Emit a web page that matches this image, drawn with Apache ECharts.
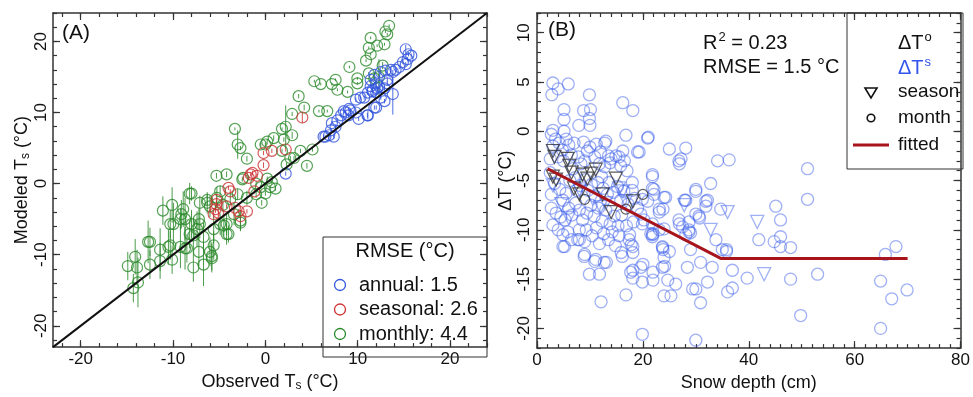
<!DOCTYPE html>
<html><head><meta charset="utf-8">
<script src="https://cdn.jsdelivr.net/npm/echarts@6/dist/echarts.min.js"></script>
<style>html,body{margin:0;padding:0;background:#fff}#c{width:973px;height:397px}</style>
</head><body><div id="c"></div>
<script>
// ---------- Panel A data: [observed, modeled, error half-length] ----------
const annualA = [[2.2,1.4,0.3],[6.3,6.6,0.3],[6.9,6.8,0.3],[7.4,6.6,0.3],[7.1,7.5,0.3],[7.6,8.0,0.3],[7.2,8.5,0.3],[7.8,8.9,0.3],[8.2,9.6,0.3],[8.7,10.0,0.3],[9.2,10.3,0.3],[9.8,10.0,0.3],[9.0,9.6,0.3],[10.1,9.1,0.3],[11.1,9.6,0.6],[12.0,10.7,0.3],[10.3,12.1,0.3],[10.7,12.1,0.3],[11.1,12.8,0.3],[11.6,13.0,0.3],[12.0,12.8,0.3],[12.5,12.1,0.3],[12.3,13.7,0.3],[12.9,13.4,0.3],[13.2,14.1,0.3],[11.4,14.6,0.3],[11.8,15.3,0.3],[12.5,15.7,0.3],[13.2,14.6,0.3],[13.8,12.6,2.9],[12.9,11.6,0.3],[13.6,16.0,0.3],[14.1,16.0,0.3],[14.5,16.4,0.3],[14.9,17.1,0.3],[15.2,16.8,0.3],[15.4,17.5,0.3],[15.8,18.0,0.3],[15.2,18.9,0.6],[15.5,18.2,0.3],[11.4,13.7,0.3],[6.5,6.6,0.2],[8.5,10.2,0.3],[9.05,10.5,0.3],[9.8,11.8,0.3],[11.05,9.6,0.3],[11.8,10.7,0.3],[12.0,14.1,0.3],[13.0,15.9,0.3],[13.8,15.7,0.3],[11.6,13.2,0.3],[12.1,13.4,0.3]];
const seasonalA = [[4.0,9.3,0.8],[-0.2,4.3,0.3],[0.7,4.6,0.3],[2.2,4.8,0.3],[-0.2,2.6,0.4],[-1.4,1.5,0.3],[-0.9,1.1,0.3],[-1.8,0.8,0.3],[-1.2,-1.1,0.3],[-4.0,-0.6,0.3],[-3.8,-1.1,0.3],[-5.3,-2.3,0.5],[-5.4,-3.6,0.5],[-5.6,-4.3,0.5],[-5.1,-4.1,0.5],[-4.2,-3.2,0.3],[-3.3,-3.4,0.3],[-2.9,-3.9,0.3],[-2.7,-4.6,0.3],[-2.0,-3.9,0.3],[-5.3,-2.9,0.5],[-1.6,1.3,0.3]];
const monthlyA = [[13.4,22.2,0.2],[13.0,21.4,0.2],[13.2,21.0,0.2],[11.4,20.5,0.2],[11.2,19.1,0.2],[12.1,19.4,0.2],[12.9,19.6,0.2],[11.4,18.2,0.2],[10.9,17.3,0.2],[12.7,16.6,0.5],[9.1,16.4,0.2],[11.2,15.5,0.2],[11.8,14.8,0.2],[12.3,15.0,2.5],[5.3,14.4,0.2],[6.0,14.0,0.2],[7.6,14.6,0.2],[7.2,14.0,0.2],[7.8,13.2,0.2],[8.9,12.9,0.2],[9.96,14.8,0.2],[9.96,14.1,0.2],[3.6,12.3,0.3],[4.2,10.7,0.4],[2.9,9.8,0.3],[2.2,8.0,3.0],[5.8,10.2,0.2],[6.7,10.2,0.2],[-3.3,7.7,0.2],[-3.0,5.5,2.0],[1.8,7.7,0.2],[2.9,6.8,0.5],[0.9,6.4,0.4],[0.2,5.9,0.4],[-0.5,5.5,0.3],[0.0,5.5,0.3],[2.0,6.2,0.3],[-2.7,5.0,0.3],[-2.0,3.5,0.4],[1.8,4.6,0.3],[3.8,4.6,0.3],[5.1,4.8,0.3],[2.7,3.6,0.3],[4.5,2.5,0.4],[-2.4,0.8,0.3],[-5.3,1.1,0.4],[0.2,0.7,0.3],[0.7,0.2,0.3],[1.1,-0.7,0.3],[0.0,-1.4,0.3],[-0.4,-2.7,0.4],[-4.2,1.3,0.4],[-2.5,0.6,0.3],[2.3,2.7,0.3],[3.1,3.6,0.3],[-1.0,0.0,0.3],[0.5,-0.5,0.3],[-0.5,-0.5,0.3],
[-8.0,-1.4,1.0],[-6.3,-2.3,0.8],[-7.1,-2.7,1.0],[-4.9,-1.1,0.8],[-3.4,-4.3,1.5],[-2.7,-5.5,1.0],[-4.2,-5.7,1.5],[-4.9,-5.7,1.5],[-4.0,-7.1,1.2],[-5.6,-6.4,2.0],[-10.1,-3.0,2.5],[-11.1,-3.8,2.0],[-8.9,-3.6,2.5],[-9.1,-4.3,2.0],[-8.7,-5.0,3.0],[-8.0,-5.7,2.0],[-9.96,-5.7,3.0],[-7.1,-5.7,2.0],[-7.4,-6.4,2.5],[-6.7,-7.5,2.0],[-7.8,-7.3,2.5],[-10.5,-8.9,2.5],[-12.5,-8.2,2.0],[-11.4,-9.3,3.0],[-9.2,-8.9,3.0],[-8.7,-9.1,3.0],[-7.2,-9.6,2.0],[-6.0,-9.6,2.0],[-5.8,-10.5,2.0],[-10.1,-10.7,2.0],[-11.4,-10.9,2.5],[-12.5,-11.4,2.0],[-7.8,-11.8,2.0],[-6.7,-11.4,3.0],[-14.1,-10.3,2.5],[-13.9,-11.8,2.5],[-14.9,-11.6,2.0],[-13.8,-13.9,3.5],[-14.3,-14.7,2.0],[-8.2,-1.4,1.5],[-5.25,-2.0,1.5],[-6.3,-2.7,1.5],[-10.3,-5.7,2.0],[-9.2,-5.0,1.5],[-7.2,-5.0,1.5],[-8.2,-7.1,2.0],[-4.5,-5.9,1.5],[-4.2,-7.1,1.5],[-2.7,-5.2,1.5],[-12.7,-8.2,3.0],[-10.3,-8.7,2.0],[-8.5,-9.1,2.0],[-5.6,-8.7,2.0],[-5.8,-10.2,2.0],[-2.0,-2.0,1.0],[-1.0,-1.5,0.5],[-3.0,-1.5,0.8],[-6.0,-3.2,1.5],[-4.6,-3.0,1.0],[-3.8,-2.2,0.8]];
const oneToOne = [[-23,-23],[24,24]];
const rmseNames = ['annual: 1.5','seasonal: 2.6','monthly: 4.4'];
const ticksA = [-20,-10,0,10,20];

// ---------- Panel B data: [snow depth (cm), ΔT (°C)] ----------
const circlesS = [[3.0,4.9],[5.9,4.8],[4.0,4.3],[2.8,3.7],[9.9,3.7],[16.2,2.9],[18.1,2.1],[5.1,2.2],[8.8,2.1],[10.1,2.2],[5.1,1.2],[9.9,1.3],[7.9,0.6],[10.0,0.6],[3.0,0.1],[5.1,0.0],[2.7,-0.3],[16.8,-0.4],[20.9,-0.7],[21.0,-0.6],
[3.5,-0.8],[4.2,-1.2],[5.5,-0.8],[6.0,-1.4],[4.8,-1.9],[3.0,-1.5],[7.0,-1.2],[8.8,-1.1],[10.0,-1.6],[11.2,-1.3],[13.0,-1.0],[12.8,-1.2],[9.5,-2.0],[10.9,-2.6],[12.0,-2.1],[13.5,-2.5],[14.9,-2.5],[14.0,-2.8],[16.2,-2.0],[15.5,-2.6],[19.3,-2.1],[25.0,-1.8],[28.1,-1.7],[27.2,-2.8],[26.9,-3.3],[34.1,-3.0],[36.3,-2.9],[51.1,-3.8],[51.1,-6.9],
[6.5,-2.4],[7.8,-2.6],[8.3,-3.3],[5.0,-3.0],[4.0,-2.6],[2.5,-2.8],[6.8,-3.8],[9.0,-3.0],[11.8,-3.3],[12.8,-3.6],[13.8,-3.2],[15.8,-3.5],[16.5,-3.0],[17.0,-4.0],[18.0,-5.2],[18.0,-6.0],
[2.5,-4.2],[3.3,-5.3],[2.7,-6.4],[4.3,-5.9],[4.9,-7.0],[5.5,-6.3],[6.2,-5.0],[7.2,-4.7],[7.5,-6.0],[8.2,-5.5],[9.1,-4.9],[9.6,-6.0],[10.3,-5.4],[11.0,-6.6],[11.5,-5.2],[12.2,-4.6],[12.5,-5.8],[13.3,-6.4],[13.6,-5.2],[14.4,-6.2],[15.2,-5.6],[15.8,-7.0],[16.4,-6.1],[17.2,-7.4],[18.4,-6.8],[19.0,-7.8],[19.6,-8.4],[19.9,-9.4],[20.9,-7.1],[21.8,-4.6],[21.8,-5.8],[22.1,-6.4],[24.0,-6.7],[23.1,-8.2],[21.8,-9.4],[23.1,-10.0],[21.5,-10.4],[21.8,-10.7],
[2.7,-7.8],[3.6,-8.3],[4.5,-8.7],[5.3,-9.0],[6.0,-7.8],[6.6,-8.5],[7.3,-7.3],[8.0,-8.0],[8.6,-9.0],[9.4,-8.3],[10.2,-7.5],[10.8,-8.6],[11.6,-7.8],[12.3,-9.1],[13.0,-8.0],[13.8,-9.4],[14.6,-8.6],[15.3,-9.6],[16.0,-8.5],[16.9,-9.6],[17.5,-10.5],[18.2,-9.2],
[3.0,-9.5],[4.0,-10.0],[4.9,-10.5],[4.9,-11.7],[5.8,-10.2],[6.5,-11.0],[7.7,-11.0],[8.0,-10.0],[9.3,-10.0],[9.0,-11.2],[10.4,-10.6],[11.2,-9.8],[11.8,-11.4],[12.6,-10.4],[13.5,-11.0],[14.2,-10.2],[14.8,-11.6],[15.5,-10.6],[15.9,-12.3],[16.1,-12.7],[17.8,-11.5],[18.1,-12.3],[18.1,-11.7],[17.4,-11.0],[9.0,-12.5],[10.9,-13.2],[13.1,-13.3],[12.7,-13.3],[11.1,-13.0],[8.9,-12.7],[5.2,-11.7],[8.0,-11.0],
[9.9,-14.5],[11.8,-14.5],[12.1,-17.3],[16.8,-16.6],[18.1,-14.1],[17.7,-14.3],[18.1,-14.9],[19.6,-13.8],[19.9,-15.3],[20.0,-13.5],[21.9,-14.3],[21.9,-15.1],[19.9,-20.6],[23.8,-12.0],[24.1,-13.7],[23.7,-13.8],[23.7,-11.8],[25.0,-12.2],[24.0,-12.8],[24.7,-15.1],[26.2,-15.5],[25.3,-16.7],[24.0,-16.7],[21.9,-10.4],[23.8,-7.9],
[26.9,-9.4],[27.5,-9.7],[28.7,-9.2],[28.7,-10.2],[29.0,-10.3],[28.1,-10.5],[30.6,-8.6],[30.7,-8.8],[31.9,-7.6],[32.2,-7.0],[28.1,-7.0],[30.0,-6.1],[32.8,-5.3],[33.8,-11.0],[35.8,-12.0],[35.8,-12.2],[29.0,-12.0],[28.4,-13.8],[30.9,-13.3],[33.1,-13.8],[36.9,-14.1],[39.7,-14.9],[30.0,-16.0],[32.2,-15.3],[30.9,-17.4],[30.0,-21.2],[36.0,-16.3],[36.9,-15.9],[29.4,-16.0],
[19.0,-2.1],[26.8,-3.0],[21.8,-4.4],[30.0,-5.9],[22.1,-5.9],[24.3,-6.7],[27.9,-7.0],[31.9,-7.1],[34.7,-7.9],[19.9,-6.9],[23.1,-7.9],[30.0,-8.4],[26.8,-9.0],[20.2,-9.0],[24.0,-9.9],[28.7,-10.0],[21.8,-10.5],[23.7,-11.7],[35.0,-12.0],
[41.9,-11.0],[44.8,-11.2],[46.0,-10.7],[45.1,-7.6],[46.0,-9.0],[46.0,-11.7],[47.9,-11.8],[47.9,-15.0],[53.0,-14.5],[49.8,-18.7],[64.9,-15.2],[65.8,-12.5],[67.8,-11.7],[67.0,-17.0],[69.9,-16.1],[64.9,-20.0]];
const trianglesS = [[4.6,-7.4],[6.0,-8.8],[8.0,-5.9],[10.5,-6.8],[13.0,-7.3],[15.5,-5.8],[16.2,-6.1],[16.8,-7.1],[27.8,-7.5],[32.8,-10.0],[36.0,-8.2],[41.6,-9.2],[42.9,-14.5],[3.0,-5.5],[12.0,-7.7]];
const trianglesO = [[3.0,-2.0],[3.3,-2.6],[3.0,-4.6],[3.6,-4.9],[5.8,-2.8],[6.1,-3.5],[8.6,-4.4],[10.2,-4.3],[11.1,-3.9],[14.9,-4.8],[7.0,-5.8],[8.0,-6.4],[12.4,-6.4],[14.0,-8.2],[18.1,-7.1],[6.5,-4.2],[9.5,-4.8]];
const circlesO = [[9.0,-6.9],[16.8,-7.9],[20.0,-6.4]];
const fitted = [[2,-3.8],[34.7,-12.9],[70,-12.9]];
const legendB = ['season','month','fitted'];
const ticksBx = [0,20,40,60,80];
const ticksBy = [-20,-15,-10,-5,0,5,10];

// ---------- build ----------
const FONT = '"Liberation Sans", Arial, sans-serif';
const AX = '#333';
function range(a,b,s){const r=[];for(let v=a;v<=b+1e-9;v+=s)r.push(+v.toFixed(6));return r;}

function mkAxes(grid, isX, min, max, majors, minors, name, nameGap, labelMargin){
  const posA = isX ? 'bottom' : 'left', posB = isX ? 'top' : 'right';
  const base = {type:'value', gridIndex:grid, min:min, max:max, splitLine:{show:false}};
  const line = {show:true, onZero:false, lineStyle:{color:AX, width:1.5}};
  const noLine = {show:false, onZero:false};
  const tick = (vals,len)=>({show:true, inside:true, length:len, customValues:vals, lineStyle:{color:AX, width:1.2}});
  return [
    Object.assign({}, base, {position:posA, axisLine:line, axisTick:tick(majors,7),
      axisLabel:{show:true, customValues:majors, rotate:isX?0:90, margin:labelMargin, color:'#111', fontSize:17, fontFamily:FONT},
      name:name, nameLocation:'middle', nameGap:nameGap,
      nameTextStyle:{color:'#111', fontSize:18, fontFamily:FONT, rich:{a:{fontSize:18, fontFamily:FONT, color:'#111'}, s:{fontSize:12, fontFamily:FONT, color:'#111', padding:[8,0,0,0]}}}}),
    Object.assign({}, base, {position:posA, axisLine:noLine, axisTick:tick(minors,4), axisLabel:{show:false}}),
    Object.assign({}, base, {position:posB, axisLine:line, axisTick:tick(majors,7), axisLabel:{show:false}}),
    Object.assign({}, base, {position:posB, axisLine:noLine, axisTick:tick(minors,4), axisLabel:{show:false}})
  ];
}

const xAxes = [].concat(
  mkAxes(0, true, -23, 24, ticksA, range(-22,24,2), '{a|Observed T}{s|s}{a| (°C)}', 20, 4),
  mkAxes(1, true, 0, 80, ticksBx, range(0,80,2), 'Snow depth (cm)', 25, 4)
);
const yAxes = [].concat(
  mkAxes(0, false, -23, 24, ticksA, range(-22,24,2), '{a|Modeled T}{s|s}{a| (°C)}', 21, 3),
  mkAxes(1, false, -22, 12, ticksBy, range(-22,12,1), 'ΔT (°C)', 19, 4)
);

function errSeries(data, color, xi, yi){
  return {type:'custom', xAxisIndex:xi, yAxisIndex:yi, data:data, clip:true, silent:true,
    renderItem:function(params, api){
      const x=api.value(0), y=api.value(1), e=api.value(2);
      const p1=api.coord([x,y-e]), p2=api.coord([x,y+e]);
      return {type:'line', shape:{x1:p1[0],y1:p1[1],x2:p2[0],y2:p2[1]}, style:{stroke:color, lineWidth:1, opacity:0.85}};
    }};
}
function ring(name, data, color, size, xi, yi, sym, rot, w){
  return {type:'scatter', name:name, xAxisIndex:xi, yAxisIndex:yi, data:data, symbol:sym||'circle', symbolSize:size, symbolRotate:rot||0,
    itemStyle:{color:'rgba(0,0,0,0)', borderColor:color, borderWidth:w||1.2}, emphasis:{disabled:true}};
}

const GREEN='#2a8a2a', RED='#cc3333', BLUE='#3355dd', LBLUE='rgba(60,95,235,0.62)', DKRED='#a8141c';
const series = [
  errSeries(monthlyA, GREEN, 0, 0),
  ring('monthly', monthlyA, GREEN, 11, 0, 0),
  errSeries(seasonalA, RED, 0, 0),
  ring('seasonal', seasonalA, RED, 11, 0, 0),
  errSeries(annualA, BLUE, 0, 0),
  ring('annual', annualA, BLUE, 11, 0, 0),
  {type:'line', data:oneToOne, xAxisIndex:0, yAxisIndex:0, showSymbol:false, lineStyle:{color:'#111', width:2}, z:5, silent:true},
  ring('ΔTs month', circlesS, LBLUE, 12, 4, 4, 'circle', 0, 1.3),
  ring('ΔTs season', trianglesS, LBLUE, 13, 4, 4, 'triangle', 180, 1.3),
  {type:'line', data:fitted, xAxisIndex:4, yAxisIndex:4, showSymbol:false, lineStyle:{color:DKRED, width:3}, z:4, silent:true},
  ring('ΔTo season', trianglesO, '#333', 13, 4, 4, 'triangle', 180),
  ring('ΔTo month', circlesO, '#333', 10, 4, 4)
];
series.forEach(s=>{ if(s.z===undefined) s.z=3; });

const T = (x,y,text,opt)=>({type:'text', z:100, style:Object.assign({x:x,y:y,text:text,fill:'#111',font:'20px '+FONT,verticalAlign:'middle'},opt||{})});
const supRich = (col)=>({a:{font:'20px '+FONT, fill:col, verticalAlign:'bottom'}, p:{font:'13px '+FONT, fill:col, verticalAlign:'bottom', padding:[0,0,9,1]}});
const legColors=[BLUE,RED,GREEN];
const graphic = [
  T(62,33,'(A)',{font:'21px '+FONT}),
  T(548,30,'(B)',{font:'21px '+FONT}),
  T(703,42,'{a|R}{p|2}{a| = 0.23}',{rich:supRich('#111')}),
  T(703,67,'RMSE = 1.5 °C'),
  {type:'rect', z:99, shape:{x:323,y:237,width:164,height:120}, style:{fill:'none',stroke:'#333',lineWidth:1}},
  T(405,251,'RMSE (°C)',{align:'center'}),
  {type:'rect', z:99, shape:{x:847,y:13,width:116,height:156}, style:{fill:'none',stroke:'#333',lineWidth:1}},
  T(898,42,'{a|ΔT}{p|o}',{rich:supRich('#111')}),
  T(898,67,'{a|ΔT}{p|s}',{rich:supRich('#3355ee')}),
  {type:'polygon', z:100, shape:{points:[[865,88],[877,88],[871,98]]}, style:{fill:'none',stroke:'#111',lineWidth:1.6}},
  T(898,92,legendB[0],{font:'19px '+FONT}),
  {type:'circle', z:100, shape:{cx:871,cy:118,r:3.8}, style:{fill:'none',stroke:'#111',lineWidth:1.6}},
  T(898,118,legendB[1],{font:'19px '+FONT}),
  {type:'line', z:100, shape:{x1:853,y1:145,x2:889,y2:145}, style:{stroke:DKRED,lineWidth:3}},
  T(898,145,legendB[2],{font:'19px '+FONT})
];
rmseNames.forEach((n,i)=>{
  graphic.push({type:'circle', z:100, shape:{cx:340,cy:285+i*24.5,r:5.5}, style:{fill:'none',stroke:legColors[i],lineWidth:1.3}});
  graphic.push(T(359,285+i*24.5,n));
});

const chart = echarts.init(document.getElementById('c'));
chart.setOption({
  animation:false,
  backgroundColor:'#fff',
  grid:[{left:53, top:13, width:434, height:344}, {left:537, top:13, width:426, height:344}],
  xAxis:xAxes, yAxis:yAxes, series:series, graphic:graphic
});
</script></body></html>
